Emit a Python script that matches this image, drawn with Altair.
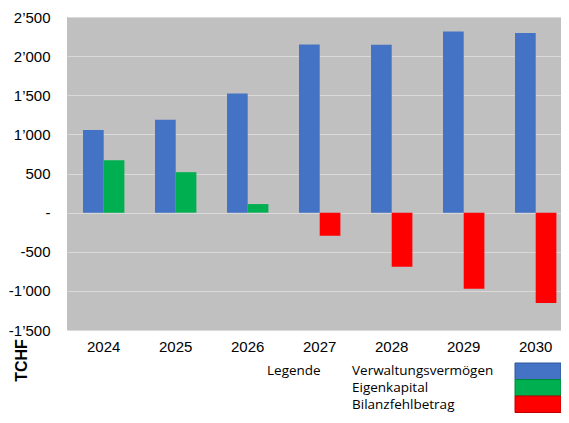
import altair as alt
import pandas as pd

years = ["2024", "2025", "2026", "2027", "2028", "2029", "2030"]
verwaltungsvermoegen = [1056, 1187, 1522, 2150, 2145, 2316, 2294]
eigenkapital = [669, 517, 109, None, None, None, None]
bilanzfehlbetrag = [None, None, None, -295, -692, -974, -1154]

series_names = ["Verwaltungsvermögen", "Eigenkapital", "Bilanzfehlbetrag"]
series_colors = ["#4472C4", "#00B050", "#FF0000"]
series_borders = ["#2F5597", "#00863C", "#C00000"]
y_ticks = [-1500, -1000, -500, 0, 500, 1000, 1500, 2000, 2500]

rows = []
for i, yr in enumerate(years):
    rows.append({"year": yr, "slot": "a", "series": series_names[0], "value": verwaltungsvermoegen[i]})
    if eigenkapital[i] is not None:
        rows.append({"year": yr, "slot": "b", "series": series_names[1], "value": eigenkapital[i]})
    if bilanzfehlbetrag[i] is not None:
        rows.append({"year": yr, "slot": "b", "series": series_names[2], "value": bilanzfehlbetrag[i]})
df = pd.DataFrame(rows)

label_expr = ("datum.value == 0 ? '-' : (datum.value < 0 ? '-' : '') + "
              "replace(format(abs(datum.value), ','), ',', '\u2019')")

bars = alt.Chart(df).mark_bar().encode(
    x=alt.X("year:N", sort=years,
            scale=alt.Scale(paddingInner=0.425, paddingOuter=0.143, align=0.777),
            axis=alt.Axis(title=None, labelAngle=0, ticks=False, domain=False,
                          labelFont="Liberation Sans", labelFontSize=15,
                          labelColor="#000000", labelPadding=9, grid=False)),
    xOffset=alt.XOffset("slot:N", scale=alt.Scale(paddingInner=0, paddingOuter=0)),
    y=alt.Y("value:Q",
            scale=alt.Scale(domain=[-1500, 2500], nice=False, zero=False),
            axis=alt.Axis(values=y_ticks, labelExpr=label_expr, title="TCHF",
                          titleFont="Liberation Sans", titleFontSize=16,
                          titleFontWeight="bold", titleColor="#000000",
                          titleAngle=270, titleX=-46, titleY=343,
                          titleAlign="center", titleBaseline="middle",
                          ticks=False, domain=False, labelPadding=17,
                          labelFont="Liberation Sans", labelFontSize=15,
                          labelColor="#000000",
                          grid=True, gridColor="#D9D9D9", gridWidth=1)),
    color=alt.Color("series:N",
                    scale=alt.Scale(domain=series_names, range=series_colors),
                    legend=None),
)

legend_font = dict(align="left", baseline="alphabetic", font="Open Sans",
                   fontSize=13.5, color="#000000")
row_step = 17
legend_layers = [
    alt.Chart(pd.DataFrame({"t": ["Legende"]})).mark_text(**legend_font).encode(
        text="t:N", x=alt.value(200), y=alt.value(358))
]
for i, name in enumerate(series_names):
    legend_layers.append(
        alt.Chart(pd.DataFrame({"t": [name]})).mark_text(**legend_font).encode(
            text="t:N", x=alt.value(285), y=alt.value(358 + row_step * i))
    )
    legend_layers.append(
        alt.Chart(pd.DataFrame({"t": [name]})).mark_rect(
            fill=series_colors[i], stroke=series_borders[i], strokeWidth=1
        ).encode(x=alt.value(448), x2=alt.value(494),
                 y=alt.value(346 + 16.5 * i), y2=alt.value(346 + 16.5 * (i + 1)))
    )

chart = alt.layer(bars, *legend_layers).properties(
    width=494, height=313,
    autosize=alt.AutoSizeParams(type="none"),
    padding={"left": 59, "top": 9, "right": 0, "bottom": 84},
    background="#FFFFFF",
).configure_view(
    fill="#C0C0C0", stroke=None
)

chart.save("out.html", embed_options={"renderer": "svg", "actions": False})
